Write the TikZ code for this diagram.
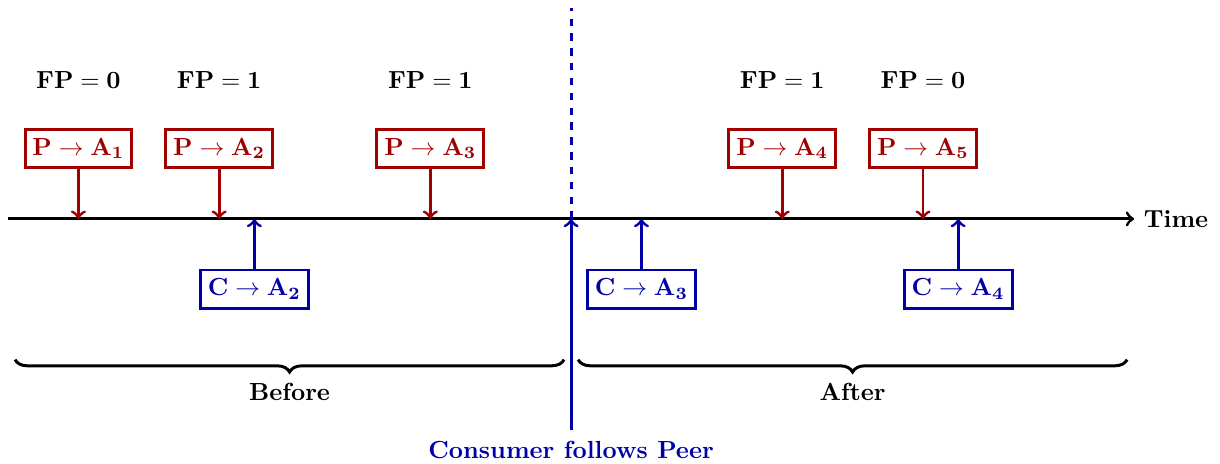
\documentclass[tikz,border=0pt]{standalone}
\usetikzlibrary{decorations.pathreplacing}
\colorlet{pcol}{red!63!black}
\colorlet{ccol}{blue!65!black}
\tikzset{
  pbox/.style={draw=pcol, text=pcol, very thick, rectangle, inner xsep=3pt, inner ysep=3.6pt},
  cbox/.style={draw=ccol, text=ccol, very thick, rectangle, inner xsep=3pt, inner ysep=3.6pt},
  parr/.style={draw=pcol, very thick, ->},
  carr/.style={draw=ccol, very thick, ->},
  fplab/.style={},
  bracestyle/.style={very thick, decorate, decoration={brace, mirror, amplitude=5pt}},
}
\begin{document}
\begin{tikzpicture}
\useasboundingbox (-0.114,-3.48) rectangle (17.22,3.11);
% timeline
\coordinate (t0) at (0,0);
\coordinate (t1) at (16,0);
\draw[very thick, ->] (t0) -- (t1) node[right, font=\bfseries] (time) {Time};
% points on the line
\coordinate (x1) at (1,0);
\coordinate (x2) at (3,0);
\coordinate (x3) at (6,0);
\coordinate (x4) at (11,0);
\coordinate (x5) at (13,0);
\coordinate (y2) at (3.5,0);
\coordinate (y3) at (9,0);
\coordinate (y4) at (13.5,0);
\coordinate (sw) at (8,0);
% producer boxes
\node[pbox] (p1) at (1,1) {$\mathbf{P}\rightarrow\mathbf{A_1}$};
\node[pbox] (p2) at (3,1) {$\mathbf{P}\rightarrow\mathbf{A_2}$};
\node[pbox] (p3) at (6,1) {$\mathbf{P}\rightarrow\mathbf{A_3}$};
\node[pbox] (p4) at (11,1) {$\mathbf{P}\rightarrow\mathbf{A_4}$};
\node[pbox] (p5) at (13,1) {$\mathbf{P}\rightarrow\mathbf{A_5}$};
\foreach \i in {1,...,5} \draw[parr] (p\i) -- (x\i);
% FP labels
\node[fplab] (f1) at (1,1.97) {$\mathbf{FP=0}$};
\node[fplab] (f2) at (3,1.97) {$\mathbf{FP=1}$};
\node[fplab] (f3) at (6,1.97) {$\mathbf{FP=1}$};
\node[fplab] (f4) at (11,1.97) {$\mathbf{FP=1}$};
\node[fplab] (f5) at (13,1.97) {$\mathbf{FP=0}$};
% consumer boxes
\node[cbox] (c2) at (3.5,-1) {$\mathbf{C}\rightarrow\mathbf{A_2}$};
\node[cbox] (c3) at (9,-1) {$\mathbf{C}\rightarrow\mathbf{A_3}$};
\node[cbox] (c4) at (13.5,-1) {$\mathbf{C}\rightarrow\mathbf{A_4}$};
\foreach \i in {2,3,4} \draw[carr] (c\i) -- (y\i);
% switch
\coordinate (swtop) at (8,3);
\coordinate (swbot) at (8,-3);
\draw[ccol, very thick, dashed] (sw) -- (swtop);
\draw[carr] (swbot) -- (sw);
\node[below, text=ccol, font=\bfseries, inner sep=4.5pt] (cfp) at (swbot) {Consumer follows Peer};
% braces
\coordinate (b1) at (0.1,-2);
\coordinate (b2) at (7.9,-2);
\coordinate (b3) at (8.1,-2);
\coordinate (b4) at (15.9,-2);
\draw[bracestyle] (b1) -- (b2) node[midway, below=5.5pt, font=\bfseries] (before) {Before};
\draw[bracestyle] (b3) -- (b4) node[midway, below=5.5pt, font=\bfseries] (after) {After};
\end{tikzpicture}
\end{document}
